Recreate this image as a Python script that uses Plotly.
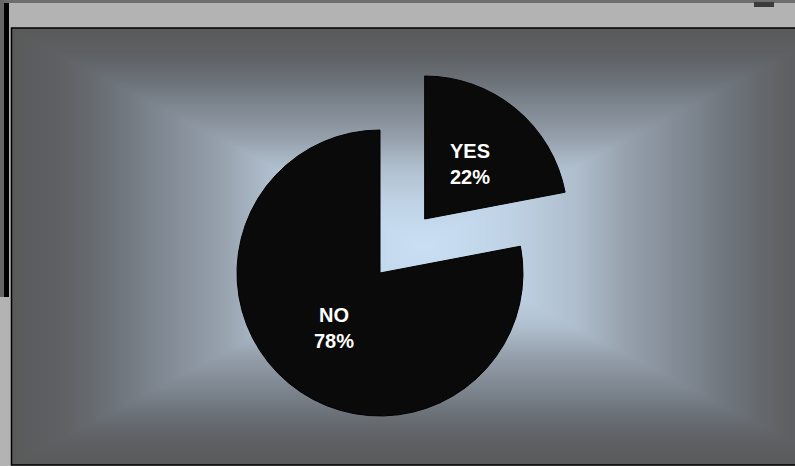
import numpy as np
import plotly.graph_objects as go

# ---- data ----
labels = ["YES", "NO"]
values = [22, 78]
pulled_label = "YES"

# ---- style ----
W, H = 795, 466
CX, CY, R = 380, 273, 143      # pie centre / radius in pixels
PULL = 0.49                     # pulled-out fraction of radius
slice_color = "#0a0a0a"
bg_scale = [
    [0.00, "#cadff4"],
    [0.20, "#c0d3e6"],
    [0.37, "#afbecd"],
    [0.50, "#959fab"],
    [0.62, "#828b95"],
    [0.75, "#6d737a"],
    [0.88, "#5e6063"],
    [1.00, "#5a5a5a"],
]

total = sum(values)
fracs = [v / total for v in values]
cum = np.cumsum([0] + fracs)
mids = [(cum[i] + cum[i + 1]) / 2 * 2 * np.pi for i in range(len(values))]

fig = go.Figure()

# background panel gradient (rectangular path gradient)
px0, px1, py0, py1 = 11, 835, 28, 465
nx, ny = 240, 120
xs = px0 + (np.arange(nx) + 0.5) * (px1 - px0) / nx
ys = py0 + (np.arange(ny) + 0.5) * (py1 - py0) / ny
gx = np.abs(xs - (px0 + px1) / 2) / ((px1 - px0) / 2)
gy = np.abs(ys - (py0 + py1) / 2) / ((py1 - py0) / 2)
zbg = np.maximum(gx[None, :], gy[:, None])
fig.add_trace(go.Heatmap(
    x=xs, y=ys, z=zbg, zmin=0, zmax=1, zsmooth="best",
    colorscale=bg_scale, showscale=False, hoverinfo="skip",
))

annotations = []
for i, lab in enumerate(labels):
    off = PULL * R if lab == pulled_label else 0.0
    cx = CX + off * np.sin(mids[i])
    cy = CY - off * np.cos(mids[i])
    colors = [slice_color if j == i else "rgba(0,0,0,0)" for j in range(len(values))]
    lw = [1 if j == i else 0 for j in range(len(values))]
    fig.add_trace(go.Pie(
        labels=labels, values=values, sort=False, direction="clockwise",
        rotation=0, textinfo="none", hoverinfo="skip", showlegend=False,
        marker=dict(colors=colors, line=dict(color="#000000", width=lw)),
        domain=dict(x=[(cx - R) / W, (cx + R) / W],
                    y=[1 - (cy + R) / H, 1 - (cy - R) / H]),
    ))
    pct = round(100 * values[i] / total)
    annotations.append(dict(
        x=cx + 0.5 * R * np.sin(mids[i]), y=cy - 0.5 * R * np.cos(mids[i]),
        xref="x", yref="y", showarrow=False,
        text=f"{lab}<br>{pct}%",
        font=dict(family="Liberation Sans, Arial", size=20, color="white", weight="bold"),
    ))

shapes = [
    dict(type="rect", xref="x", yref="y", x0=0, x1=W, y0=0, y1=3,
         fillcolor="#6e6e6e", line_width=0, layer="above"),
    dict(type="rect", xref="x", yref="y", x0=0, x1=4, y0=0, y1=297,
         fillcolor="#666666", line_width=0, layer="above"),
    dict(type="rect", xref="x", yref="y", x0=4, x1=9, y0=3, y1=297,
         fillcolor="#000000", line_width=0, layer="above"),
    dict(type="rect", xref="x", yref="y", x0=754, x1=774, y0=2, y1=7,
         fillcolor="#3c3c3c", line_width=0, layer="above"),
    dict(type="rect", xref="x", yref="y", x0=11.5, x1=W + 10, y0=28, y1=465,
         line=dict(color="#000000", width=1.5), fillcolor="rgba(0,0,0,0)", layer="above"),
]

fig.update_layout(
    width=W, height=H, margin=dict(l=0, r=0, t=0, b=0),
    paper_bgcolor="#b3b3b3", plot_bgcolor="#b3b3b3",
    xaxis=dict(range=[0, W], visible=False, fixedrange=True),
    yaxis=dict(range=[H, 0], visible=False, fixedrange=True),
    annotations=annotations, shapes=shapes, showlegend=False,
)

fig.write_html(
    "out.html",
    config={"displayModeBar": False},
    post_script="document.body.style.margin='0';document.body.style.overflow='hidden';",
)
